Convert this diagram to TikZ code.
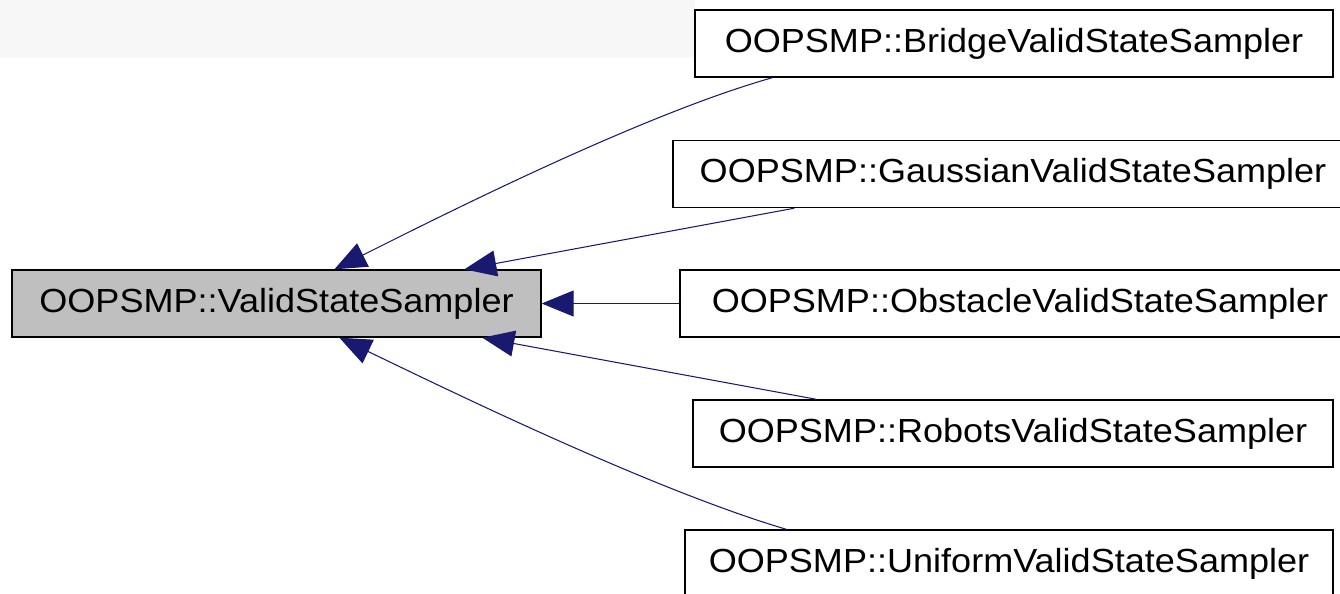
\documentclass[tikz,border=0pt]{standalone}
\usepackage{fontspec}
\setmainfont{Liberation Sans}[FakeStretch=1.08]
\usetikzlibrary{arrows.meta,calc}
\definecolor{edgeblue}{RGB}{25,25,112}
\definecolor{basegray}{RGB}{191,191,191}
\tikzset{
  classbox/.style={draw=black,line width=0.8pt,fill=white,inner sep=0pt,
    minimum height=1.34cm,font=\fontsize{19}{23}\selectfont},
  inherit/.style={draw=edgeblue,line width=0.6pt,
    -{Triangle[length=0.64cm,width=0.52cm,fill=edgeblue]}},
}

\begin{document}
\begin{tikzpicture}[x=0.02cm,y=-0.02cm]
         \useasboundingbox (0,0) rectangle (1340,593);
         \clip (0,0) rectangle (1340,593);
         \fill [black!3] (0,0) rectangle (695,58);

         \node [classbox,fill=basegray,minimum width=10.58cm] (vss) at (276.5,303.5) {OOPSMP::ValidStateSampler};
         \node [classbox,minimum width=12.76cm] (bridge) at (1014,43.5) {OOPSMP::BridgeValidStateSampler};
         \node [classbox,minimum width=13.6cm] (gauss) at (1013,174) {OOPSMP::GaussianValidStateSampler};
         \node [classbox,minimum width=13.6cm] (obstacle) at (1020,303.5) {OOPSMP::ObstacleValidStateSampler};
         \node [classbox,minimum width=12.8cm] (robots) at (1013,433.5) {OOPSMP::RobotsValidStateSampler};
         \node [classbox,minimum width=12.96cm] (uniform) at (1009,563.5) {OOPSMP::UniformValidStateSampler};

         \draw [inherit] ($(bridge.south west)+(78,0)$) .. controls (640,115) and (435,219) .. ($(vss.north west)+(323,0)$);
         \draw [inherit] ($(gauss.south west)+(122,0)$) -- ($(vss.north west)+(453,0)$);
         \draw [inherit] (obstacle.west) -- (vss.east);
         \draw [inherit] ($(robots.north west)+(124,0)$) -- ($(vss.south west)+(471,0)$);
         \draw [inherit] ($(uniform.north west)+(102,0)$) .. controls (650,489) and (440,386) .. ($(vss.south west)+(328,0)$);
\end{tikzpicture}
\end{document}
